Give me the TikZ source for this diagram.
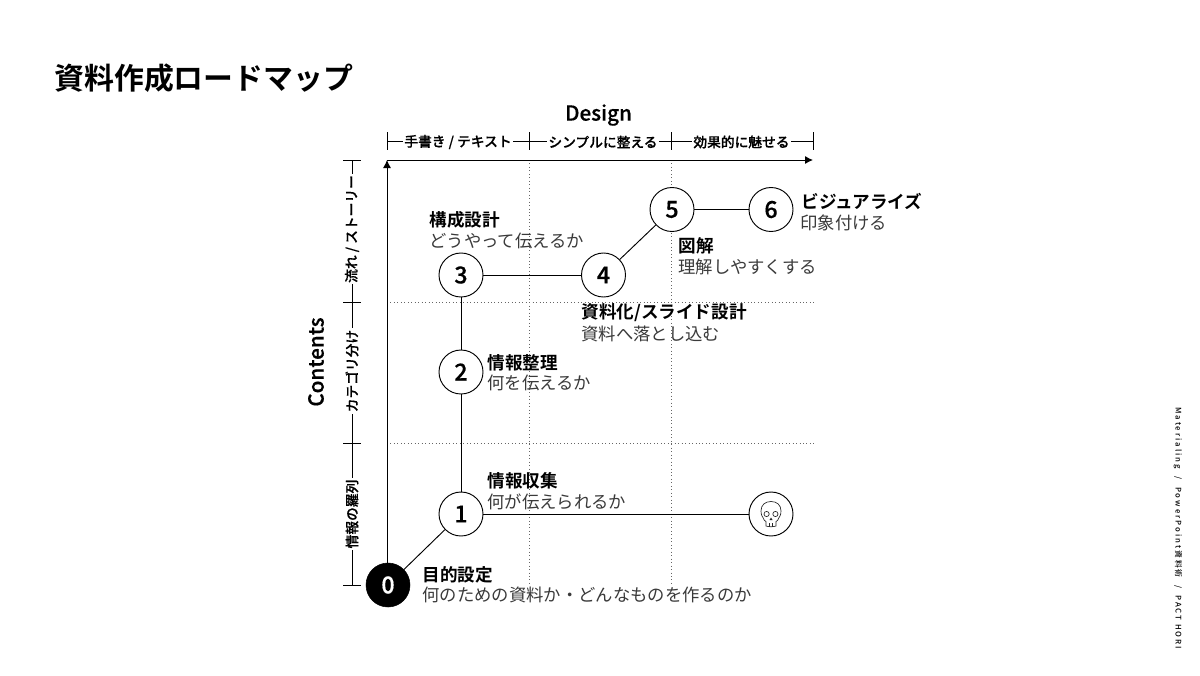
\documentclass[tikz,border=0pt]{standalone}
\usepackage{fontspec}
\setmainfont{Noto Sans CJK JP}[BoldFont={Noto Sans CJK JP Bold}]
\newfontfamily\medfont{Noto Sans CJK JP Medium}
\newfontfamily\semifont{Noto Sans CJK JP Medium}[FakeBold=0.5]
\newfontfamily\lsfont{Noto Sans CJK JP Medium}[LetterSpace=26]
\usetikzlibrary{arrows.meta}
\definecolor{bodygrey}{HTML}{3A3A3A}
\tikzset{
  x=0.75pt,y=-0.75pt,
  txt/.style={inner sep=0pt,outer sep=0pt,anchor=west},
  head/.style={txt,font=\fontsize{13.2pt}{15pt}\selectfont\bfseries,text=black},
  sub/.style={txt,font=\fontsize{13pt}{15pt}\selectfont,text=bodygrey},
  stage/.style={circle,draw=black,fill=white,line width=0.7pt,minimum size=33pt,inner sep=0pt,font=\semifont\fontsize{17.5pt}{18pt}\selectfont},
  startnode/.style={circle,draw=black,fill=black,text=white,minimum size=33pt,inner sep=0pt,font=\semifont\fontsize{17.5pt}{18pt}\selectfont},
  link/.style={draw=black,line width=0.7pt},
  axisline/.style={draw=black,line width=0.7pt,-{Latex[length=6pt,width=6pt]}},
  grid/.style={draw=black!60,line width=0.6pt,dotted},
  brk/.style={draw=black,line width=0.6pt},
  brklabel/.style={inner sep=1pt,fill=white,font=\semifont\fontsize{10.3pt}{12pt}\selectfont},
  axistitle/.style={inner sep=0pt,font=\semifont\fontsize{15.5pt}{18pt}\selectfont},
}
\begin{document}
\begin{tikzpicture}
\useasboundingbox (0,0) rectangle (1200,675);
\fill[white] (0,0) rectangle (1200,675);

% title
\node[txt,font=\fontsize{22.4pt}{26pt}\selectfont\bfseries] (title) at (54.5,78) {資料作成ロードマップ};

% named anchor points
\coordinate (o) at (387,585);
\coordinate (xend) at (813,160);
\coordinate (xo) at (387,160);
\coordinate (g1t) at (529,160); \coordinate (g1b) at (529,585);
\coordinate (g2t) at (671,160); \coordinate (g2b) at (671,585);
\coordinate (g3l) at (387,302); \coordinate (g3r) at (814,302);
\coordinate (g4l) at (387,443); \coordinate (g4r) at (814,443);

% dotted grid
\draw[grid] (g1t) -- (g1b);
\draw[grid] (g2t) -- (g2b);
\draw[grid] (g3l) -- (g3r);
\draw[grid] (g4l) -- (g4r);

% stage nodes
\node[startnode] (n0) at (388,585) {0};
\node[stage] (n1) at (461,514) {1};
\node[stage] (n2) at (461,372) {2};
\node[stage] (n3) at (461,275) {3};
\node[stage] (n4) at (603.5,275) {4};
\node[stage] (n5) at (672,209.5) {5};
\node[stage] (n6) at (771,209.5) {6};
\node[stage] (n7) at (771,514) {};

% axes
\draw[axisline] (n0.north -| o) -- (xo);
\draw[axisline] (xo) -- (xend);

% connectors
\draw[link] (n0) -- (n1);
\draw[link] (n1) -- (n2);
\draw[link] (n2) -- (n3);
\draw[link] (n3) -- (n4);
\draw[link] (n4) -- (n5);
\draw[link] (n5) -- (n6);
\draw[link] (n1) -- (n7);

% skull
\begin{scope}[shift={(n7.center)},draw=black!85,line width=0.5pt]
  \draw[fill=white] (-5,12) -- (-5,7.5) .. controls (-6.5,7) and (-7,6) .. (-7.5,4.5)
     .. controls (-8.5,3) and (-10,1) .. (-10,-3)
     .. controls (-10,-9) and (-6,-12.5) .. (0,-12.5)
     .. controls (6,-12.5) and (10,-9) .. (10,-3)
     .. controls (10,1) and (8.5,3) .. (7.5,4.5)
     .. controls (7,6) and (6.5,7) .. (5,7.5) -- (5,12)
     .. controls (2,13) and (-2,13) .. (-5,12) -- cycle;
  \draw (-4.4,0) circle (2.6);
  \draw (4.4,0) circle (2.6);
  \fill[black!85] (0,3.5) -- (1.5,6) -- (-1.5,6) -- cycle;
  \draw (-1.7,9) -- (-1.7,12.5);
  \draw (1.7,9) -- (1.7,12.5);
\end{scope}

% top bracket
\foreach \nm/\xx in {ta/387,tb/529,tc/671,td/813}{
  \coordinate (\nm u) at (\xx,132);
  \coordinate (\nm m) at (\xx,141);
  \coordinate (\nm d) at (\xx,150);
  \draw[brk] (\nm u) -- (\nm d);
}
\draw[brk] (tam) -- (tdm);
\node[brklabel] (t1) at (458,142) {手書き / テキスト};
\node[brklabel] (t2) at (603,142) {シンプルに整える};
\node[brklabel] (t3) at (741.5,142) {効果的に魅せる};
\node[axistitle] (design) at (598.5,115) {Design};

% left bracket
\foreach \nm/\yy in {la/160,lb/302,lc/443,ld/585}{
  \coordinate (\nm u) at (343,\yy);
  \coordinate (\nm m) at (352,\yy);
  \coordinate (\nm d) at (361,\yy);
  \draw[brk] (\nm u) -- (\nm d);
}
\draw[brk] (lam) -- (ldm);
\node[brklabel,rotate=90] (l1) at (352,229) {流れ / ストーリー};
\node[brklabel,rotate=90] (l2) at (352,371) {カテゴリ分け};
\node[brklabel,rotate=90] (l3) at (352,514) {情報の羅列};
\node[axistitle,rotate=90] (contents) at (316,362) {Contents};

% labels
\node[head] (h0) at (422.5,575) {目的設定};
\node[sub] (s0) at (422.5,595) {何のための資料か・どんなものを作るのか};
\node[head] (h1) at (487.5,481) {情報収集};
\node[sub] (s1) at (487.5,502) {何が伝えられるか};
\node[head] (h2) at (487.5,363) {情報整理};
\node[sub] (s2) at (487.5,383) {何を伝えるか};
\node[head] (h3) at (429.5,220) {構成設計};
\node[sub] (s3) at (429.5,241) {どうやって伝えるか};
\node[head] (h4) at (581.5,313) {資料化/スライド設計};
\node[sub] (s4) at (581.5,334) {資料へ落とし込む};
\node[head] (h5) at (678.5,246) {図解};
\node[sub] (s5) at (678.5,267) {理解しやすくする};
\node[head] (h6) at (801.5,201) {ビジュアライズ};
\node[sub] (s6) at (800.5,223) {印象付ける};

% side note
\node[inner sep=0pt,rotate=-90,anchor=west,font=\lsfont\fontsize{5.8pt}{7pt}\selectfont] (side) at (1178,407) {Materialing\ \ /\ \ PowerPoint資料術\ \ /\ \ PACT HORI};
\end{tikzpicture}
\end{document}
